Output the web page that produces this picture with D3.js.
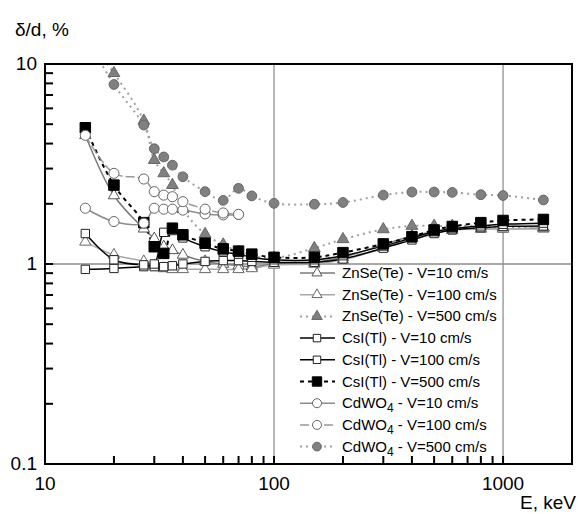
<!DOCTYPE html>
<html>
<head>
<meta charset="utf-8">
<script src="https://cdn.jsdelivr.net/npm/d3@7"></script>
<style>
  body { margin: 0; background: #fff; }
  svg { font-family: "Liberation Sans", Arial, sans-serif; }
</style>
</head>
<body>
<svg id="chart" width="578" height="514"></svg>
<script>
// energies, keV
const energies = [15, 20, 27, 30, 33, 36, 40, 50, 60, 70, 80, 100, 150, 200, 300, 400, 500, 600, 800, 1000, 1500];

// delta/d, % (null = no point)
const znse10  = [4.4, 2.2, 1.5, 1.34, 1.22, 1.17, 1.11, 1.03, 1.0, 0.98, 0.97, 1.0, 1.02, 1.08, 1.25, 1.38, 1.45, 1.48, 1.5, 1.5, 1.5];
const znse100 = [1.29, 1.11, 1.03, 0.98, 0.95, 0.94, 0.94, 0.94, 0.94, 0.94, 0.95, 0.99, 1.0, 1.05, 1.2, 1.35, 1.43, 1.48, 1.5, 1.5, 1.52];
const znse500 = [14, 9.0, 5.2, 3.31, 2.84, 2.48, 1.88, 1.41, 1.25, 1.15, 1.1, 1.07, 1.2, 1.33, 1.49, 1.55, 1.55, 1.55, 1.55, 1.53, 1.52];
const csi10   = [0.94, 0.95, 0.97, 0.97, 0.97, 0.98, 1.0, 1.03, 1.04, 1.04, 1.03, 1.02, 1.02, 1.06, 1.2, 1.32, 1.42, 1.48, 1.52, 1.54, 1.55];
const csi100  = [1.42, 1.05, 0.99, 1.0, 1.44, 1.47, 1.35, 1.22, 1.15, 1.12, 1.08, 1.05, 1.05, 1.1, 1.23, 1.35, 1.45, 1.5, 1.55, 1.58, 1.6];
const csi500  = [4.8, 2.48, 1.61, 1.22, 1.13, 1.51, 1.4, 1.27, 1.19, 1.16, 1.12, 1.08, 1.08, 1.14, 1.26, 1.37, 1.48, 1.54, 1.61, 1.65, 1.67];
const cdwo10  = [1.9, 1.63, 1.6, 1.9, 1.88, 1.88, 1.86, 1.78, 1.76, 1.77, null, null, null, null, null, null, null, null, null, null, null];
const cdwo100 = [4.4, 2.84, 2.66, 2.3, 2.21, 2.17, 2.05, 1.88, 1.8, 1.77, null, null, null, null, null, null, null, null, null, null, null];
const cdwo500 = [14, 7.9, 4.95, 3.77, 3.43, 3.12, 2.73, 2.3, 2.08, 2.39, 2.19, 2.01, 1.99, 2.03, 2.21, 2.29, 2.29, 2.28, 2.22, 2.2, 2.09];

const xTicks = [10, 100, 1000];
const yTicks = [0.1, 1, 10];

const legendLabels = [
  ["ZnSe(Te)", "", " - V=10 cm/s"],
  ["ZnSe(Te)", "", " - V=100 cm/s"],
  ["ZnSe(Te)", "", " - V=500 cm/s"],
  ["CsI(Tl)", "", " - V=10 cm/s"],
  ["CsI(Tl)", "", " - V=100 cm/s"],
  ["CsI(Tl)", "", " - V=500 cm/s"],
  ["CdWO", "4", " - V=10 cm/s"],
  ["CdWO", "4", " - V=100 cm/s"],
  ["CdWO", "4", " - V=500 cm/s"]
];

const seriesValues = [znse10, znse100, znse500, csi10, csi100, csi500, cdwo10, cdwo100, cdwo500];

// drawing style per series
const styles = [
  { line: "#7a7a7a", dash: null,  lw: 1.5, shape: d3.symbolTriangle, size: 55, fill: "#fff", stroke: "#555" },
  { line: "#a8a8a8", dash: null,  lw: 1.5, shape: d3.symbolTriangle, size: 55, fill: "#fff", stroke: "#666" },
  { line: "#a0a0a0", dash: "2,4", lw: 2,   shape: d3.symbolTriangle, size: 60, fill: "#808080", stroke: "#666" },
  { line: "#000",    dash: null,  lw: 1.5, shape: d3.symbolSquare,   size: 70, fill: "#fff", stroke: "#222" },
  { line: "#000",    dash: null,  lw: 1.5, shape: d3.symbolSquare,   size: 70, fill: "#fff", stroke: "#222" },
  { line: "#000",    dash: "4,4", lw: 2,   shape: d3.symbolSquare,   size: 110, fill: "#000", stroke: "#000" },
  { line: "#8c8c8c", dash: null,  lw: 1.5, shape: d3.symbolCircle,   size: 80, fill: "#fff", stroke: "#666" },
  { line: "#999",    dash: "9,3", lw: 1.5, shape: d3.symbolCircle,   size: 80, fill: "#fff", stroke: "#666" },
  { line: "#a0a0a0", dash: "2,4", lw: 2,   shape: d3.symbolCircle,   size: 75, fill: "#808080", stroke: "#666" }
];

const plotLeft = 45, plotRight = 572, plotTop = 64, plotBottom = 464;

const svg = d3.select("#chart");

const xScale = d3.scaleLog().domain([10, 2000]).range([plotLeft, plotRight]);
const yScale = d3.scaleLog().domain([0.1, 10]).range([plotBottom, plotTop]);

// minor ticks
const xMinor = [];
[10, 100, 1000].forEach(d => { for (let k = 2; k <= 9; k++) if (d * k < 2000) xMinor.push(d * k); });
xMinor.push(100, 1000);
const yMinor = [];
[0.1, 1].forEach(d => { for (let k = 2; k <= 9; k++) yMinor.push(d * k); });
yMinor.push(1);

svg.append("defs").append("clipPath").attr("id", "plot-clip")
   .append("rect")
   .attr("x", plotLeft).attr("y", plotTop)
   .attr("width", plotRight - plotLeft).attr("height", plotBottom - plotTop);

// grid lines
svg.append("g").selectAll("line")
   .data([100, 1000])
   .enter().append("line")
   .attr("x1", d => xScale(d)).attr("x2", d => xScale(d))
   .attr("y1", plotTop).attr("y2", plotBottom)
   .attr("stroke", "#707070").attr("stroke-width", 1);

svg.append("line")
   .attr("x1", plotLeft).attr("x2", plotRight)
   .attr("y1", yScale(1)).attr("y2", yScale(1))
   .attr("stroke", "#8a8a8a").attr("stroke-width", 1.5);

// ticks (inward)
svg.append("g").selectAll("line")
   .data(xMinor)
   .enter().append("line")
   .attr("x1", d => xScale(d)).attr("x2", d => xScale(d))
   .attr("y1", plotBottom).attr("y2", plotBottom - 8)
   .attr("stroke", "#000").attr("stroke-width", 2);

svg.append("g").selectAll("line")
   .data(yMinor)
   .enter().append("line")
   .attr("x1", plotLeft).attr("x2", plotLeft + 8)
   .attr("y1", d => yScale(d)).attr("y2", d => yScale(d))
   .attr("stroke", "#000").attr("stroke-width", 2);

// series
const lineGen = d3.line()
  .defined(d => d[1] !== null)
  .x(d => xScale(d[0]))
  .y(d => yScale(d[1]))
  .curve(d3.curveCatmullRom.alpha(0.5));

const plot = svg.append("g").attr("clip-path", "url(#plot-clip)");

seriesValues.forEach((vals, i) => {
  const st = styles[i];
  const pts = energies.map((e, j) => [e, vals[j]]);
  plot.append("path")
      .datum(pts)
      .attr("d", lineGen)
      .attr("fill", "none")
      .attr("stroke", st.line)
      .attr("stroke-width", st.lw)
      .attr("stroke-dasharray", st.dash);
});

seriesValues.forEach((vals, i) => {
  const st = styles[i];
  const pts = energies.map((e, j) => [e, vals[j]]).filter(d => d[1] !== null);
  plot.selectAll(null)
      .data(pts)
      .enter().append("path")
      .attr("d", d3.symbol().type(st.shape).size(st.size))
      .attr("transform", d => `translate(${xScale(d[0])},${yScale(d[1])})`)
      .attr("fill", st.fill)
      .attr("stroke", st.stroke)
      .attr("stroke-width", 1);
});

// frame
svg.append("rect")
   .attr("x", plotLeft).attr("y", plotTop)
   .attr("width", plotRight - plotLeft).attr("height", plotBottom - plotTop)
   .attr("fill", "none").attr("stroke", "#000").attr("stroke-width", 2);

// tick labels
svg.append("g").selectAll("text")
   .data(xTicks)
   .enter().append("text")
   .attr("x", d => xScale(d))
   .attr("y", 490)
   .attr("text-anchor", "middle")
   .attr("font-size", 19)
   .text(d => d);

svg.append("g").selectAll("text")
   .data(yTicks)
   .enter().append("text")
   .attr("x", 37)
   .attr("y", d => yScale(d) + 6)
   .attr("text-anchor", "end")
   .attr("font-size", 19)
   .text(d => d);

// axis titles
svg.append("text")
   .attr("x", 15).attr("y", 36)
   .attr("font-size", 19)
   .text("δ/d, %");

svg.append("text")
   .attr("x", 576).attr("y", 509)
   .attr("text-anchor", "end")
   .attr("font-size", 19)
   .text("E, keV");

// legend
const legend = svg.append("g");
legendLabels.forEach((lab, i) => {
  const st = styles[i];
  const y = 273 + i * 21.7;
  legend.append("line")
        .attr("x1", 300).attr("x2", 335)
        .attr("y1", y).attr("y2", y)
        .attr("stroke", st.line)
        .attr("stroke-width", st.lw)
        .attr("stroke-dasharray", st.dash);
  legend.append("path")
        .attr("d", d3.symbol().type(st.shape).size(st.size * 0.8))
        .attr("transform", `translate(317,${y})`)
        .attr("fill", st.fill)
        .attr("stroke", st.stroke);
  const t = legend.append("text")
        .attr("x", 342).attr("y", y + 5)
        .attr("font-size", 15);
  t.append("tspan").text(lab[0]);
  if (lab[1]) t.append("tspan").attr("dy", 4).attr("font-size", 12).text(lab[1]);
  t.append("tspan").attr("dy", lab[1] ? -4 : 0).text(lab[2]);
});
</script>
</body>
</html>
